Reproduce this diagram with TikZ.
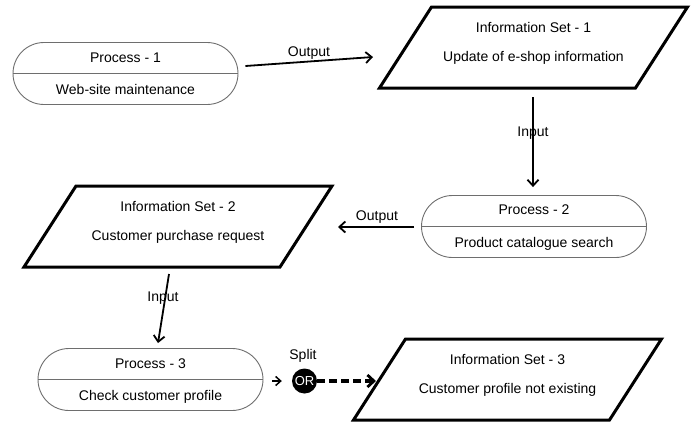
\documentclass[tikz,border=0pt]{standalone}
\usepackage{fontspec}
\setmainfont{Liberation Sans}
\usetikzlibrary{arrows.meta}
\definecolor{procgray}{HTML}{6E6E6E}
% parallelogram of an information set, centred on a named coordinate
\newcommand{\infopara}[1]{%
  \draw[infobox] ([shift={(-102,-40.5)}]#1) -- ([shift={(154,-40.5)}]#1)
    -- ([shift={(102,40.5)}]#1) -- ([shift={(-154,40.5)}]#1) -- cycle;}
\begin{document}
\begin{tikzpicture}[x=1pt,y=-1pt,
  procbox/.style={draw=procgray, line width=0.9pt, rounded corners=31pt,
    minimum width=225pt, minimum height=62pt, inner sep=0pt},
  divider/.style={draw=procgray, line width=0.9pt},
  infobox/.style={line width=3pt, line join=miter},
  txt/.style={font=\fontsize{14}{16}\selectfont, inner sep=0pt,
    text height=10pt, text depth=0pt},
  flow/.style={line width=1.8pt, -{Straight Barb[length=6pt,width=11pt,line width=1.8pt]}},
  dashflow/.style={line width=3.2pt, dash pattern=on 8pt off 4pt,
    -{Straight Barb[length=6.5pt,width=12pt,line width=2.8pt]}},
  orgate/.style={circle, fill=black, minimum size=25pt, inner sep=0pt,
    text=white, font=\fontsize{13}{14}\selectfont}]
\useasboundingbox (0,0) rectangle (694,424);

% processes
\node[procbox] (p1) at (125.5,73.5) {};
\draw[divider] (p1.west) -- (p1.east);
\node[txt] (p1t) at ([shift={(0,-16)}]p1.center) {Process - 1};
\node[txt] (p1b) at ([shift={(0,16)}]p1.center) {Web-site maintenance};

\node[procbox] (p2) at (534,226.5) {};
\draw[divider] (p2.west) -- (p2.east);
\node[txt] (p2t) at ([shift={(0,-17)}]p2.center) {Process - 2};
\node[txt] (p2b) at ([shift={(0,15.5)}]p2.center) {Product catalogue search};

\node[procbox] (p3) at (150.5,379.5) {};
\draw[divider] (p3.west) -- (p3.east);
\node[txt] (p3t) at ([shift={(0,-16.5)}]p3.center) {Process - 3};
\node[txt] (p3b) at ([shift={(0,16)}]p3.center) {Check customer profile};

% information sets
\coordinate (is1) at (533.5,47.5);
\infopara{is1}
\node[txt] (is1t) at ([shift={(0,-20.5)}]is1) {Information Set - 1};
\node[txt] (is1b) at ([shift={(0,8.5)}]is1) {Update of e-shop information};

\coordinate (is2) at (178,226.5);
\infopara{is2}
\node[txt] (is2t) at ([shift={(0,-20.5)}]is2) {Information Set - 2};
\node[txt] (is2b) at ([shift={(0,8.5)}]is2) {Customer purchase request};

\coordinate (is3) at (507.5,379.5);
\infopara{is3}
\node[txt] (is3t) at ([shift={(0,-20.5)}]is3) {Information Set - 3};
\node[txt] (is3b) at ([shift={(0,9)}]is3) {Customer profile not existing};

% split gate
\node[orgate] (or) at (304.5,381) {OR};
\node[txt] (split) at (303,354) {Split};

% connector labels
\node[txt] (out1) at (309,51) {Output};
\node[txt] (in1) at (533,131) {Input};
\node[txt] (out2) at (377,215) {Output};
\node[txt] (in2) at (163,296) {Input};

% connectors
\draw[flow] ([shift={(7,-7.5)}]p1.east) -- ([shift={(-160.5,9.5)}]is1);
\draw[flow] ([shift={(-0.5,49.5)}]is1) -- ([shift={(-1,-8)}]p2.north);
\draw[flow] ([shift={(-7,0.5)}]p2.west) -- ([shift={(160,0.5)}]is2);
\draw[flow] ([shift={(-9,47.5)}]is2) -- ([shift={(7.5,-5)}]p3.north);
\draw[line width=1.2pt, -{Straight Barb[length=5pt,width=9pt,line width=1.5pt]}]
  ([shift={(9,1.5)}]p3.east) -- ([shift={(-10,0)}]or.west);
\draw[dashflow] (or.east) -- ([shift={(-131.5,1.5)}]is3);
\end{tikzpicture}
\end{document}
